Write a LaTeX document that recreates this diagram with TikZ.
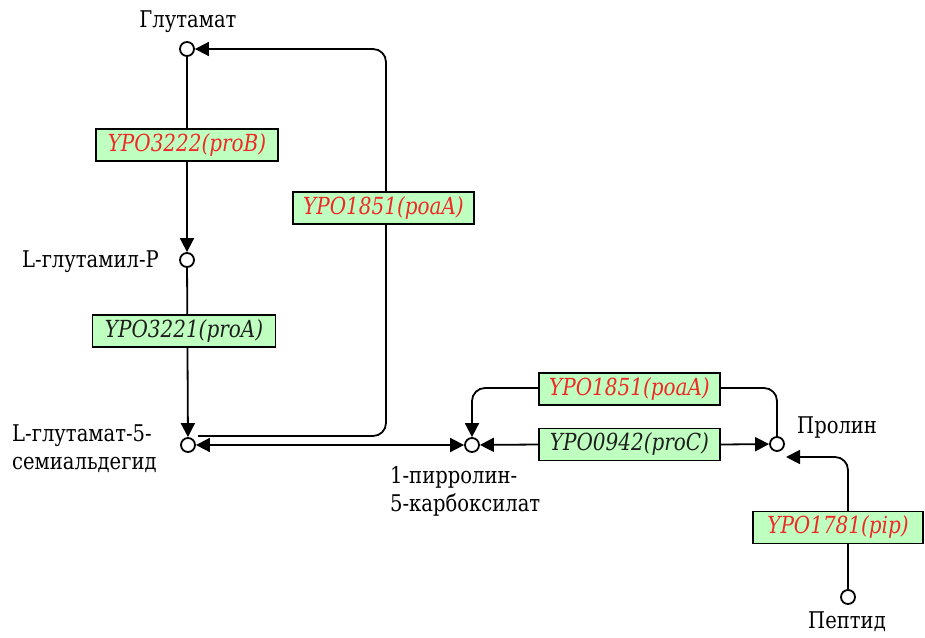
\documentclass[tikz,border=0pt]{standalone}
\usepackage{fontspec}
\setmainfont{DejaVu Serif}
\newfontfamily\lserif{DejaVu Serif}[FakeStretch=0.85]
\usetikzlibrary{arrows.meta}
\definecolor{enzfill}{RGB}{191,255,191}
\definecolor{enzred}{RGB}{240,40,40}
\definecolor{enzdark}{RGB}{30,30,30}
\pgfdeclarelayer{bg}
\pgfsetlayers{bg,main}
\begin{document}
\begin{tikzpicture}[x=1pt,y=-1pt,
  met/.style={circle, draw=black, fill=white, line width=1.8pt, minimum size=14pt, inner sep=0pt},
  enz/.style={draw=black, fill=enzfill, line width=1.6pt, font=\lserif\fontsize{23.5}{23.5}\selectfont\itshape, minimum height=32pt, inner xsep=2pt, inner ysep=0pt},
  redt/.style={text=enzred},
  blkt/.style={text=enzdark},
  lbl/.style={font=\lserif\fontsize{23}{28}\selectfont, inner sep=0pt},
  arr/.style={line width=1.8pt, -{Triangle[length=14pt,width=14pt]}},
  darr/.style={line width=1.8pt, {Triangle[length=14pt,width=14pt]}-{Triangle[length=14pt,width=14pt]}}
]
\useasboundingbox (0,0) rectangle (925,637);
% metabolites
\node[met] (glu) at (187,49) {};
\node[met] (glp) at (187,260) {};
\node[met] (gsa) at (188,445) {};
\node[met] (p5c) at (472,445) {};
\node[met] (pro) at (777,444) {};
\node[met] (pep) at (848,597) {};
% labels
\node[lbl] (tglu) at (188,22) {Глутамат};
\node[lbl, anchor=east] (tglp) at (159,262) {L-глутамил-P};
\node[lbl, anchor=west, align=left] (tgsa) at (12,449) {L-глутамат-5-\\семиальдегид};
\node[lbl, anchor=west, align=left] (tp5c) at (390,491) {1-пирролин-\\5-карбоксилат};
\node[lbl, anchor=west] (tpro) at (797,428) {Пролин};
\node[lbl] (tpep) at (847,622) {Пептид};
% enzymes
\node[enz, redt, minimum width=182pt] (proB) at (187,145) {YPO3222(proB)};
\node[enz, redt, minimum width=181pt] (poaA1) at (383.5,208) {YPO1851(poaA)};
\node[enz, blkt, minimum width=183pt] (proA) at (184,331) {YPO3221(proA)};
\node[enz, redt, minimum width=181pt] (poaA2) at (629.5,389) {YPO1851(poaA)};
\node[enz, blkt, minimum width=181pt] (proC) at (629.5,444.5) {YPO0942(proC)};
\node[enz, redt, minimum width=170pt] (pip) at (838,527.5) {YPO1781(pip)};
% free ends
\coordinate (s1) at (198,436);
\coordinate (t1) at (786,457);
\begin{pgfonlayer}{bg}
\draw[arr] (glu) -- (glp);
\draw[arr] (glp) -- (gsa);
\draw[arr, rounded corners=13pt] (s1) -- (386,436) -- (386,49) -- (glu);
\draw[darr] (gsa) -- (p5c);
\draw[arr, rounded corners=13pt] (pro.north) -- (777,388) -- (472,388) -- (p5c.north);
\draw[arr] (proC.west) -- (p5c);
\draw[arr] (proC.east) -- (pro);
\draw[arr, rounded corners=13pt] (pep.north) -- (848,457) -- (t1);
\end{pgfonlayer}
\end{tikzpicture}
\end{document}
